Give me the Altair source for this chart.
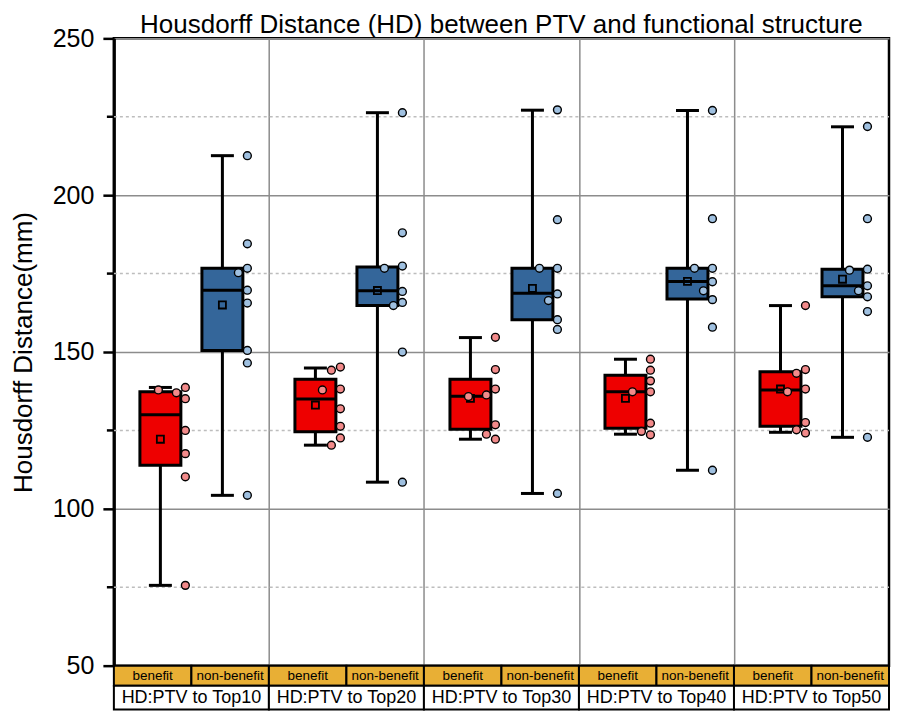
import altair as alt
import pandas as pd

groups = ["HD:PTV to Top10", "HD:PTV to Top20", "HD:PTV to Top30",
          "HD:PTV to Top40", "HD:PTV to Top50"]
conditions = ["benefit", "non-benefit"]

benefit_points = [
    [138.7, 137.0, 137.9, 135.1, 125.0, 117.6, 110.2, 75.6],
    [145.2, 144.2, 138.2, 137.9, 131.9, 126.3, 122.6, 120.3],
    [154.7, 144.4, 138.2, 136.3, 135.8, 126.8, 123.8, 122.2],
    [147.7, 144.2, 140.8, 137.3, 137.3, 127.3, 124.7, 123.6],
    [164.8, 144.4, 143.2, 138.2, 137.3, 127.5, 125.2, 124.2],
]
nonbenefit_points = [
    [212.6, 184.5, 176.7, 175.3, 169.7, 165.6, 150.5, 146.5, 104.3],
    [226.3, 188.0, 177.4, 176.7, 169.3, 165.8, 164.8, 150.0, 108.5],
    [227.2, 192.2, 176.7, 176.7, 168.5, 166.4, 160.3, 157.2, 104.9],
    [227.0, 192.5, 176.7, 176.7, 172.4, 169.5, 166.7, 157.9, 112.3],
    [221.9, 192.5, 176.4, 176.1, 171.1, 169.5, 167.6, 162.9, 122.8],
]

# box statistics
benefit_lo = [75.6, 120.3, 122.2, 123.8, 124.4]
benefit_q1 = [113.9, 124.6, 125.4, 125.7, 126.3]
benefit_med = [130.0, 135.0, 135.9, 137.3, 137.9]
benefit_q3 = [137.3, 141.3, 141.3, 142.6, 143.7]
benefit_hi = [138.7, 144.9, 154.6, 147.7, 164.8]
benefit_mean = [122.2, 133.1, 135.2, 135.2, 138.2]

nonbenefit_lo = [104.3, 108.5, 104.9, 112.3, 122.8]
nonbenefit_q1 = [150.5, 164.8, 160.3, 166.9, 167.6]
nonbenefit_med = [169.7, 169.5, 168.7, 172.5, 171.1]
nonbenefit_q3 = [176.7, 177.1, 176.7, 176.7, 176.4]
nonbenefit_hi = [212.6, 226.3, 227.1, 227.0, 221.8]
nonbenefit_mean = [165.0, 169.6, 170.3, 172.5, 173.2]

major_ticks = [50, 100, 150, 200, 250]
minor_ticks = [75, 125, 175, 225]

# ---------------- layout / style ----------------
W, H = 776, 628
STRIP1, STRIP2 = 20, 24
PX = 5.0 / W               # x data units per pixel
YPX = H / 200.0            # pixels per mm
CENTER = {"benefit": 0.30, "non-benefit": 0.70}
BOX_HALF = 20.5 * PX
CAP_HALF = 11.5 * PX
FONT = "Liberation Sans"
BOX_COLORS = ["#EE0000", "#34669A"]
PT_COLORS = ["#F28A8A", "#9FC0E0"]
ORANGE = "#E8AF35"
GRID = "#8C8C8C"
LW = 3


def swarm(vals):
    slots = [25, 16, 7, -2, -11]
    placed, offs = [], []
    for v in vals:
        py = v * YPX
        chosen = slots[-1]
        for s in slots:
            if all((s - ox) ** 2 + (py - oy) ** 2 >= 9.5 ** 2 for ox, oy in placed):
                chosen = s
                break
        placed.append((chosen, py))
        offs.append(chosen)
    return offs


box_rows, pt_rows = [], []
stats = {
    "benefit": (benefit_lo, benefit_q1, benefit_med, benefit_q3, benefit_hi, benefit_mean, benefit_points),
    "non-benefit": (nonbenefit_lo, nonbenefit_q1, nonbenefit_med, nonbenefit_q3, nonbenefit_hi, nonbenefit_mean, nonbenefit_points),
}
for cond in conditions:
    lo, q1, med, q3, hi, mean, pts = stats[cond]
    for i, g in enumerate(groups):
        c = i + CENTER[cond]
        box_rows.append(dict(group=g, cond=cond, center=c,
                             box_lo=c - BOX_HALF, box_hi=c + BOX_HALF,
                             cap_lo=c - CAP_HALF, cap_hi=c + CAP_HALF,
                             lo=lo[i], q1=q1[i], med=med[i], q3=q3[i],
                             hi=hi[i], mean=mean[i]))
        for v, o in zip(pts[i], swarm(pts[i])):
            pt_rows.append(dict(group=g, pcond=cond, x=c + o * PX, v=v))

box_df = pd.DataFrame(box_rows)
pt_df = pd.DataFrame(pt_rows)

xscale = alt.Scale(domain=[0, 5], nice=False, zero=False)
xaxis = alt.Axis(values=[1, 2, 3, 4], grid=True, labels=False, ticks=False,
                 domain=False, title=None, gridColor=GRID, gridWidth=1.5)
yscale = alt.Scale(domain=[50, 250], nice=False, zero=False)
yaxis = alt.Axis(values=major_ticks, title="Housdorff Distance(mm)",
                 grid=True, gridColor=GRID, gridWidth=1.5,
                 tickSize=11, tickWidth=2.5, tickColor="black",
                 domainColor="black", domainWidth=3,
                 labelFontSize=25, labelPadding=9, labelColor="black",
                 titleFontSize=26, titleFontWeight="normal", titleColor="black",
                 titlePadding=16)


def X(f):
    return alt.X(f"{f}:Q", scale=xscale, axis=xaxis)


def Y(f):
    return alt.Y(f"{f}:Q", scale=yscale, axis=yaxis)


color_box = alt.Color("cond:N", scale=alt.Scale(domain=conditions, range=BOX_COLORS), legend=None)
fill_pt = alt.Fill("pcond:N", scale=alt.Scale(domain=conditions, range=PT_COLORS), legend=None)

minor_df = pd.DataFrame({"v": minor_ticks})
minor_grid = alt.Chart(minor_df).mark_rule(color="#BDBDBD", strokeWidth=1.5, strokeDash=[3, 3]).encode(
    y=Y("v"), x=alt.value(0), x2=alt.value(W))
minor_tick = alt.Chart(minor_df).mark_rule(color="black", strokeWidth=2.5).encode(
    y=Y("v"), x=alt.value(-7), x2=alt.value(0))

bb = alt.Chart(box_df)
whisker = bb.mark_rule(color="black", strokeWidth=LW).encode(x=X("center"), y=Y("lo"), y2="hi")
cap_lo = bb.mark_rule(color="black", strokeWidth=LW).encode(x=X("cap_lo"), x2="cap_hi", y=Y("lo"))
cap_hi = bb.mark_rule(color="black", strokeWidth=LW).encode(x=X("cap_lo"), x2="cap_hi", y=Y("hi"))
box = bb.mark_rect(stroke="black", strokeWidth=LW).encode(
    x=X("box_lo"), x2="box_hi", y=Y("q1"), y2="q3", color=color_box)
median = bb.mark_rule(color="black", strokeWidth=LW).encode(x=X("box_lo"), x2="box_hi", y=Y("med"))
mean = bb.mark_point(shape="square", filled=False, size=50, color="black", strokeWidth=1.8, opacity=1).encode(
    x=X("center"), y=Y("mean"))
points = alt.Chart(pt_df).mark_circle(size=62, stroke="black", strokeWidth=1.4, opacity=1).encode(
    x=X("x"), y=Y("v"), fill=fill_pt)

main = alt.layer(minor_grid, minor_tick, whisker, cap_lo, cap_hi, box, median, mean, points).resolve_scale(
    color="independent", fill="independent")

# ---------------- label strip beneath the plot ----------------
strip_scale = alt.Scale(domain=[0, STRIP1 + STRIP2], range=[H, H + STRIP1 + STRIP2], nice=False, zero=False)
cond_rows, grp_rows = [], []
for i, g in enumerate(groups):
    for k, cond in enumerate(conditions):
        cond_rows.append(dict(label=cond, x0=i + 0.5 * k, x1=i + 0.5 * k + 0.5,
                              xc=i + 0.5 * k + 0.25, y0=0, y1=STRIP1, yc=STRIP1 / 2))
    grp_rows.append(dict(label=g, x0=i, x1=i + 1, xc=i + 0.5,
                         y0=STRIP1, y1=STRIP1 + STRIP2, yc=STRIP1 + STRIP2 / 2))
cond_df = pd.DataFrame(cond_rows)
grp_df = pd.DataFrame(grp_rows)


def SY(f):
    return alt.Y(f"{f}:Q", scale=strip_scale, axis=None)


cond_rect = alt.Chart(cond_df).mark_rect(fill=ORANGE, stroke="black", strokeWidth=2).encode(
    x=X("x0"), x2="x1", y=SY("y0"), y2="y1")
grp_rect = alt.Chart(grp_df).mark_rect(fill="white", stroke="black", strokeWidth=2).encode(
    x=X("x0"), x2="x1", y=SY("y0"), y2="y1")
cond_text = alt.Chart(cond_df).mark_text(font=FONT, fontSize=13.5, color="black").encode(
    x=X("xc"), y=SY("yc"), text="label:N")
grp_text = alt.Chart(grp_df).mark_text(font=FONT, fontSize=18, color="black").encode(
    x=X("xc"), y=SY("yc"), text="label:N")

strip = alt.layer(cond_rect, grp_rect, cond_text, grp_text)

chart = alt.layer(main, strip).resolve_scale(y="independent").properties(
    width=W, height=H,
    padding={"left": 2, "top": 3, "right": 1, "bottom": 0},
    title=alt.TitleParams("Housdorff Distance (HD) between PTV and functional structure",
                          font=FONT, fontSize=26, fontWeight="normal", color="black",
                          anchor="middle", frame="group", offset=-11.5),
).configure(font=FONT).configure_view(stroke="black", strokeWidth=2.5).configure_axis(
    labelFont=FONT, titleFont=FONT)

chart.save("out.html", embed_options={"renderer": "svg", "actions": False})
